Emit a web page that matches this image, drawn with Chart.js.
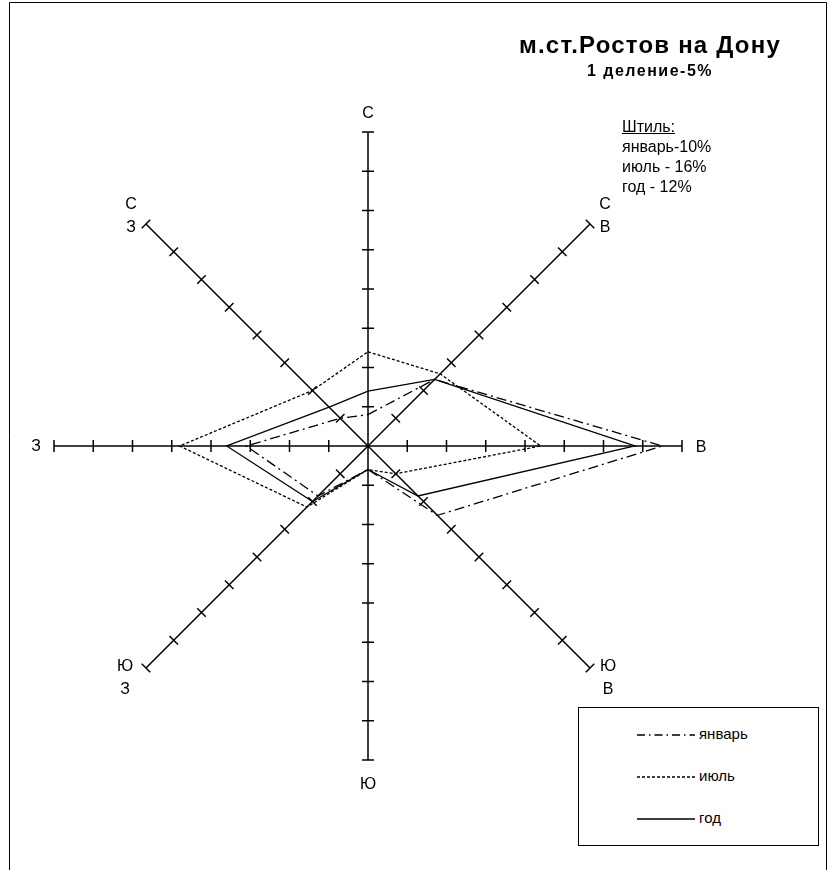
<!DOCTYPE html>
<html><head><meta charset="utf-8">
<script src="https://cdn.jsdelivr.net/npm/chart.js@4/dist/chart.umd.min.js"></script>
<style>
html,body{margin:0;padding:0;background:#fff;}
#wrap{position:relative;width:829px;height:870px;overflow:hidden;font-family:"Liberation Sans",Arial,sans-serif;color:#000;}
canvas{position:absolute;left:0;top:0;}
.t{position:absolute;white-space:nowrap;}
#title{left:450px;top:31px;width:400px;text-align:center;font-weight:bold;font-size:24px;letter-spacing:1.2px;}
#sub{left:450px;top:62px;width:400px;text-align:center;font-weight:bold;font-size:16px;letter-spacing:1.5px;}
#calm{left:622px;top:117px;font-size:16px;line-height:20px;}
#legend{position:absolute;left:578px;top:707px;width:241px;height:139px;border:1px solid #000;box-sizing:border-box;background:#fff;}
.li{position:absolute;left:56px;font-size:15px;height:20px;}
.li svg{position:absolute;left:0;top:8px;}
.li span{position:absolute;left:64px;top:0;}
</style></head>
<body><div id="wrap">
<canvas id="c" width="829" height="870"></canvas>
<div class="t" id="title">м.ст.Ростов на Дону</div>
<div class="t" id="sub">1 деление-5%</div>
<div class="t" id="calm"><u>Штиль:</u><br>январь-10%<br>июль - 16%<br>год - 12%</div>
<div id="legend">
 <div class="li" style="top:17px"><svg width="62" height="4"><line x1="2" y1="2" x2="60" y2="2" stroke="#000" stroke-width="1.3" stroke-dasharray="8 4 1.5 4"/></svg><span>январь</span></div>
 <div class="li" style="top:59px"><svg width="62" height="4"><line x1="2" y1="2" x2="60" y2="2" stroke="#000" stroke-width="1.3" stroke-dasharray="3 2"/></svg><span>июль</span></div>
 <div class="li" style="top:101px"><svg width="62" height="4"><line x1="2" y1="2" x2="60" y2="2" stroke="#000" stroke-width="1.3"/></svg><span>год</span></div>
</div>
</div>
<script>
const directions = ['С','СВ','В','ЮВ','Ю','ЮЗ','З','СЗ'];
const directionLabelLines = [['С'],['С','В'],['В'],['Ю','В'],['Ю'],['Ю','З'],['З'],['С','З']];
const january = [4, 12, 37.5, 12.5, 3, 9, 15.5, 5];
const july    = [12, 13, 22, 5, 3, 11, 24, 10];
const year    = [7, 12, 34, 9, 3, 10, 18, 7];
const tickValues = [5, 10, 15, 20, 25, 30, 35, 40];
const seriesNames = ['январь','июль','год'];

// label offsets (px) from the end of each spoke
const labelOffsets = [[0,-18],[15,-19],[19,2],[18,-1],[0,25],[-21,-1],[-18,1],[-15,-19]];

const decor = {
  id:'decor',
  beforeDraw(chart){
    const ctx = chart.ctx;
    ctx.save();
    ctx.strokeStyle='#000'; ctx.lineWidth=1;
    ctx.beginPath();
    ctx.moveTo(9.5,870); ctx.lineTo(9.5,2.5); ctx.lineTo(826.5,2.5); ctx.lineTo(826.5,870);
    ctx.stroke();
    ctx.restore();
  },
  afterDraw(chart){
    const s = chart.scales.r, ctx = chart.ctx;
    ctx.save();
    ctx.strokeStyle='#000'; ctx.lineWidth=1.5;
    for(let i=0;i<directions.length;i++){
      const a = s.getIndexAngle(i) - Math.PI/2;
      const px = -Math.sin(a), py = Math.cos(a);
      for(const v of tickValues){
        const p = s.getPointPosition(i, s.getDistanceFromCenterForValue(v));
        ctx.beginPath();
        ctx.moveTo(p.x - 6*px, p.y - 6*py);
        ctx.lineTo(p.x + 6*px, p.y + 6*py);
        ctx.stroke();
      }
      const end = s.getPointPosition(i, s.getDistanceFromCenterForValue(s.max));
      ctx.fillStyle='#000';
      ctx.font='16px "Liberation Sans", Arial, sans-serif';
      ctx.textAlign='center'; ctx.textBaseline='middle';
      const lines = directionLabelLines[i];
      lines.forEach((t,k)=>{
        ctx.fillText(t, end.x + labelOffsets[i][0], end.y + labelOffsets[i][1] + k*23);
      });
    }
    ctx.restore();
  }
};

new Chart(document.getElementById('c'), {
  type:'radar',
  data:{
    labels: directions,
    datasets:[
      {label:seriesNames[0], data:january, borderColor:'#000', borderWidth:1.3, borderDash:[10,4,2,4], pointRadius:0, fill:false, tension:0},
      {label:seriesNames[1], data:july, borderColor:'#000', borderWidth:1.3, borderDash:[3,2], pointRadius:0, fill:false, tension:0},
      {label:seriesNames[2], data:year, borderColor:'#000', borderWidth:1.3, pointRadius:0, fill:false, tension:0}
    ]
  },
  options:{
    responsive:false, animation:false,
    layout:{padding:{left:54, top:132, right:147, bottom:110}},
    plugins:{legend:{display:false}, tooltip:{enabled:false}, title:{display:false}},
    elements:{line:{borderJoinStyle:'miter'}},
    scales:{r:{
      min:0, max:40, startAngle:0,
      ticks:{display:false, stepSize:5},
      grid:{display:false},
      angleLines:{display:true, color:'#000', lineWidth:1.5},
      pointLabels:{display:false}
    }}
  },
  plugins:[decor]
});
</script>
</body></html>
